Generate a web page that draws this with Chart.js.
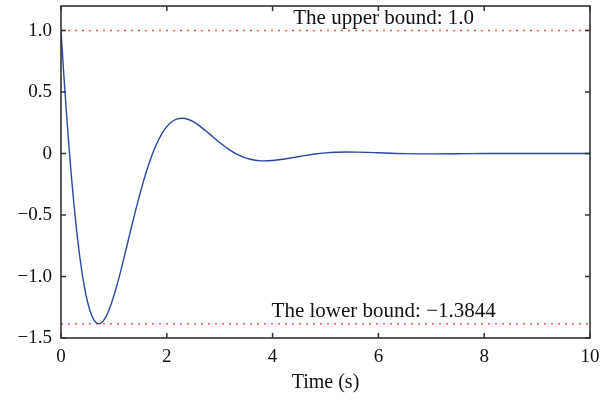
<!DOCTYPE html>
<html>
<head>
<meta charset="utf-8">
<script src="https://cdn.jsdelivr.net/npm/chart.js@4"></script>
<style>
html,body{margin:0;padding:0;background:#fff;}
#wrap{width:611px;height:403px;}
</style>
</head>
<body>
<div id="wrap"><canvas id="c" width="611" height="403"></canvas></div>
<script>
// time samples (s)
const timeValues = [0,0.05,0.1,0.15,0.2,0.25,0.3,0.35,0.4,0.45,0.5,0.55,0.6,0.65,0.7,0.714,0.75,0.8,0.85,0.9,
  1.0,1.1,1.2,1.3,1.4,1.5,1.6,1.7,1.8,1.9,2.0,2.1,2.2,2.3,2.4,2.5,2.6,2.8,3.0,3.2,3.4,3.6,3.8,4.0,4.2,4.4,4.6,4.8,
  5.0,5.2,5.4,5.6,5.8,6.0,6.5,7.0,7.5,8.0,8.5,9.0,9.5,10.0];
// response values
const responseValues = [1.0,0.6616,0.3475,0.0591,-0.2024,-0.4367,-0.6435,-0.8230,-0.9756,-1.1020,-1.2034,-1.2807,-1.3356,-1.3694,-1.3836,-1.3844,-1.3802,-1.3605,-1.3266,-1.2802,
  -1.1566,-1.0034,-0.8325,-0.6550,-0.4802,-0.3154,-0.1662,-0.0366,0.0712,0.1563,0.2188,0.2602,0.2823,0.2877,0.2790,0.2594,0.2316,0.1623,0.0895,0.0262,-0.0205,-0.0484,-0.0594,-0.0570,-0.0462,-0.0315,-0.0165,-0.0038,
  0.0053,0.0104,0.0122,0.0116,0.0092,0.0061,-0.0005,-0.0026,-0.0015,0.0000,0.0006,0.0002,0.0000,0.0000];
const boundValues = [1.0, -1.3844];
const boundLabels = ['The upper bound: 1.0', 'The lower bound: \u22121.3844'];
const xTickValues = [0,2,4,6,8,10];
const xTickLabels = ['0','2','4','6','8','10'];
const yTickValues = [-1.5,-1.0,-0.5,0,0.5,1.0];
const yTickLabels = ['\u22121.5','\u22121.0','\u22120.5','0','0.5','1.0'];

const FONT = "'Liberation Serif', 'Times New Roman', serif";
const labelX = 6.1;

const framePlugin = {
  id: 'frame',
  afterDraw(chart) {
    const {ctx, chartArea: a, scales: {x, y}} = chart;
    ctx.save();
    ctx.strokeStyle = '#333';
    ctx.lineWidth = 1.5;
    ctx.beginPath();
    xTickValues.forEach(v => {
      const px = x.getPixelForValue(v);
      ctx.moveTo(px, a.bottom); ctx.lineTo(px, a.bottom - 5);
      ctx.moveTo(px, a.top); ctx.lineTo(px, a.top + 5);
    });
    yTickValues.forEach(v => {
      const py = y.getPixelForValue(v);
      ctx.moveTo(a.left, py); ctx.lineTo(a.left + 5, py);
      ctx.moveTo(a.right, py); ctx.lineTo(a.right - 5, py);
    });
    ctx.stroke();
    ctx.lineWidth = 1.6;
    ctx.strokeRect(a.left, a.top, a.right - a.left, a.bottom - a.top);
    // bound labels
    ctx.fillStyle = '#111';
    ctx.font = "21px " + FONT;
    ctx.textAlign = 'center';
    ctx.textBaseline = 'alphabetic';
    boundValues.forEach((b, i) => {
      ctx.fillText(boundLabels[i], x.getPixelForValue(labelX), y.getPixelForValue(b) - 7);
    });
    ctx.restore();
  }
};

const boundDatasets = boundValues.map(b => ({
  data: [{x: 0, y: b}, {x: 10, y: b}],
  borderColor: 'rgba(255,50,50,0.85)',
  borderWidth: 1.5,
  borderDash: [2, 5],
  pointRadius: 0,
  tension: 0,
  order: 2
}));

new Chart(document.getElementById('c'), {
  type: 'line',
  data: {
    datasets: [
      {
        data: timeValues.map((t, i) => ({x: t, y: responseValues[i]})),
        borderColor: '#2b47a6',
        borderWidth: 1.4,
        pointRadius: 0,
        cubicInterpolationMode: 'monotone',
        order: 1
      },
      ...boundDatasets
    ]
  },
  options: {
    responsive: false,
    animation: false,
    devicePixelRatio: 1,
    layout: {padding: {left: 0, right: 21, top: 6, bottom: 0}},
    plugins: {legend: {display: false}, tooltip: {enabled: false}},
    scales: {
      x: {
        type: 'linear',
        min: 0, max: 10,
        afterFit(s) { s.height = 65; s.paddingLeft = 0; s.paddingRight = 0; },
        afterBuildTicks(s) { s.ticks = xTickValues.map(v => ({value: v})); },
        grid: {display: false, drawTicks: false},
        border: {display: false},
        ticks: {
          padding: 8,
          color: '#111',
          font: {family: FONT, size: 19},
          callback: (v) => { const i = xTickValues.indexOf(v); return i >= 0 ? xTickLabels[i] : ''; }
        },
        title: {
          display: true,
          text: 'Time (s)',
          color: '#111',
          font: {family: FONT, size: 20},
          padding: {top: 0, bottom: 8}
        }
      },
      y: {
        type: 'linear',
        min: -1.5, max: 1.2,
        afterFit(s) { s.width = 61; s.paddingTop = 0; s.paddingBottom = 0; },
        afterBuildTicks(s) { s.ticks = yTickValues.map(v => ({value: v})); },
        grid: {display: false, drawTicks: false},
        border: {display: false},
        ticks: {
          padding: 9,
          color: '#111',
          font: {family: FONT, size: 19},
          callback: (v) => { const i = yTickValues.findIndex(t => Math.abs(t - v) < 1e-9); return i >= 0 ? yTickLabels[i] : ''; }
        }
      }
    }
  },
  plugins: [framePlugin]
});
</script>
</body>
</html>
